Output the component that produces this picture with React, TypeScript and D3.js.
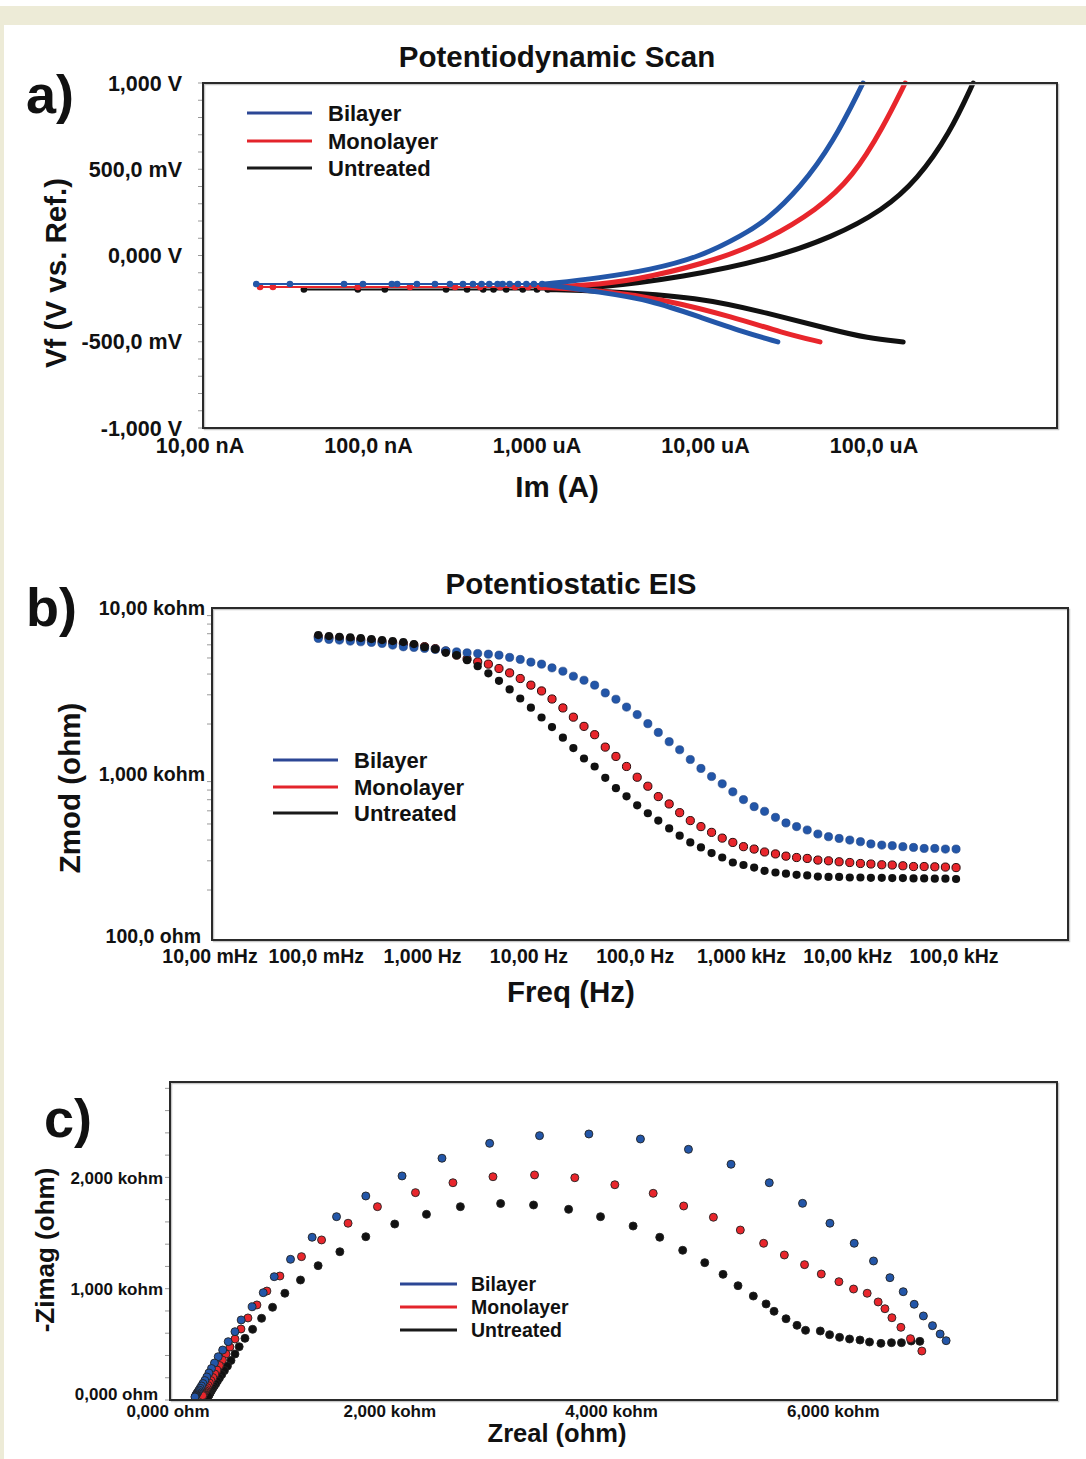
import React from "react";
import * as d3 from "d3";

const FONT = "'Liberation Sans', Arial, Helvetica, sans-serif";
const seriesNames = ["Bilayer", "Monolayer", "Untreated"];
const seriesColors = ["#2356a8", "#e8262c", "#111111"];
const legendColors = ["#2c4795", "#e3242b", "#1a1a1a"];

// ---------- Panel a: Potentiodynamic scan (I in A, V in V) ----------
const tafelXTicks = [1e-8, 1e-7, 1e-6, 1e-5, 1e-4];
const tafelXTickLabels = ["10,00 nA", "100,0 nA", "1,000 uA", "10,00 uA", "100,0 uA"];
const tafelYTicks = [1, 0.5, 0, -0.5, -1];
const tafelYTickLabels = ["1,000 V", "500,0 mV", "0,000 V", "-500,0 mV", "-1,000 V"];

const bilayerCathodic = [[2.58e-5, -0.501], [1.6e-5, -0.443], [8.9e-6, -0.357], [4.5e-6, -0.258], [2.27e-6, -0.212], [1.07e-6, -0.168]];
const bilayerAnodic = [[1.07e-6, -0.165], [2.27e-6, -0.13], [4.5e-6, -0.084], [8.9e-6, -0.009], [1.6e-5, 0.119], [2.22e-5, 0.206], [3.49e-5, 0.391], [5.48e-5, 0.652], [8.26e-5, 1.0]];
const bilayerEcorr = -0.165;
const bilayerNearEcorr = [1.03e-6, 9.2e-7, 8.3e-7, 7.4e-7, 6.6e-7, 6.0e-7, 5.6e-7, 5.0e-7, 4.5e-7, 4.0e-7, 3.49e-7, 2.92e-7, 2.38e-7, 1.86e-7, 1.42e-7, 1.32e-7, 8.9e-8, 6.87e-8, 3.28e-8, 2.07e-8];

const monoCathodic = [[4.59e-5, -0.501], [2.77e-5, -0.449], [1.4e-5, -0.357], [5.68e-6, -0.258], [2.27e-6, -0.2], [1.0e-6, -0.185]];
const monoAnodic = [[1.0e-6, -0.183], [2.27e-6, -0.171], [4.5e-6, -0.125], [1.12e-5, -0.026], [2.22e-5, 0.09], [4.4e-5, 0.264], [7.2e-5, 0.455], [1.09e-4, 0.745], [1.47e-4, 1.0]];
const monoEcorr = -0.183;
const monoNearEcorr = [1.0e-6, 8.5e-7, 7.1e-7, 5.8e-7, 4.41e-7, 3.13e-7, 1.69e-7, 8.3e-8, 2.6e-8, 2.18e-8];

const untreatedCathodic = [[1.43e-4, -0.501], [8.7e-5, -0.478], [5.48e-5, -0.432], [2.22e-5, -0.333], [8.9e-6, -0.241], [2.27e-6, -0.205], [1.11e-6, -0.198]];
const untreatedAnodic = [[1.11e-6, -0.197], [2.27e-6, -0.187], [7.06e-6, -0.125], [2.22e-5, -0.026], [5.48e-5, 0.107], [1.09e-4, 0.264], [1.73e-4, 0.438], [2.71e-4, 0.71], [3.72e-4, 1.0]];
const untreatedEcorr = -0.197;
const untreatedNearEcorr = [1.11e-6, 9.6e-7, 7.9e-7, 6.3e-7, 5.3e-7, 4.6e-7, 3.69e-7, 2.77e-7, 1.2e-7, 8.3e-8, 3.97e-8];

// ---------- Panel b: Bode |Z| ----------
const eisFreq = [
  0.1, 0.126, 0.158, 0.2, 0.251, 0.316, 0.398, 0.501, 0.631, 0.794,
  1, 1.26, 1.58, 2, 2.51, 3.16, 3.98, 5.01, 6.31, 7.94,
  10, 12.6, 15.8, 20, 25.1, 31.6, 39.8, 50.1, 63.1, 79.4,
  100, 126, 158, 200, 251, 316, 398, 501, 631, 794,
  1000, 1260, 1580, 2000, 2510, 3160, 3980, 5010, 6310, 7940,
  10000, 12600, 15800, 20000, 25100, 31600, 39800, 50100, 63100, 79400,
  100000,
];
const zmodBilayer = [
  6560, 6470, 6410, 6320, 6260, 6205, 6120, 5980, 5840, 5790,
  5710, 5630, 5520, 5440, 5370, 5320, 5270, 5200, 5040, 4900,
  4720, 4590, 4360, 4160, 3880, 3670, 3430, 3080, 2820, 2530,
  2280, 2010, 1780, 1565, 1400, 1223, 1080, 966, 873, 781,
  701, 636, 596, 548, 507, 482, 460, 435, 419, 409,
  400, 391, 379, 373, 370, 365, 361, 356, 356, 353,
  353,
];
const zmodMonolayer = [
  6730, 6650, 6590, 6520, 6450, 6380, 6290, 6200, 6100, 5980,
  5850, 5690, 5500, 5200, 4920, 4740, 4590, 4320, 4065, 3760,
  3430, 3165, 2830, 2500, 2200, 1936, 1725, 1452, 1276, 1110,
  956, 844, 731, 660, 585, 524, 482, 445, 411, 387,
  365, 353, 339, 330, 320, 314, 310, 303, 300, 296,
  293, 289, 287, 284, 283, 280, 277, 277, 276, 275,
  273,
];
const zmodUntreated = [
  6870, 6770, 6710, 6650, 6590, 6500, 6410, 6320, 6230, 6060,
  5810, 5650, 5370, 5200, 4850, 4460, 4040, 3640, 3230, 2850,
  2510, 2190, 1918, 1655, 1432, 1240, 1110, 948, 821, 734,
  648, 580, 524, 470, 425, 387, 361, 334, 314, 293,
  283, 273, 261, 255, 251, 247, 245, 241, 240, 240,
  238, 238, 237, 237, 236, 236, 235, 235, 234, 234,
  233,
];
const eisXTicks = [0.01, 0.1, 1, 10, 100, 1000, 10000, 100000];
const eisXTickLabels = ["10,00 mHz", "100,0 mHz", "1,000 Hz", "10,00 Hz", "100,0 Hz", "1,000 kHz", "10,00 kHz", "100,0 kHz"];
const eisYTicks = [10000, 1000, 100];
const eisYTickLabels = ["10,00 kohm", "1,000 kohm", "100,0 ohm"];

// ---------- Panel c: Nyquist ----------
const zrealBilayer = [7000, 6946, 6877, 6795, 6712, 6613, 6493, 6345, 6171, 5952, 5705, 5405, 5060, 4676, 4243, 3778, 3333, 2883, 2453, 2093, 1766, 1502, 1282, 1087, 940, 841, 741, 642, 586, 525, 475, 435, 401, 374, 351, 332, 314, 297, 284, 272, 262, 254, 247, 241, 237, 233, 231, 228, 225];
const zimagBilayer = [533, 593, 668, 755, 860, 973, 1099, 1249, 1408, 1588, 1767, 1952, 2118, 2252, 2345, 2390, 2375, 2306, 2172, 2013, 1833, 1647, 1462, 1264, 1108, 964, 838, 719, 614, 524, 449, 389, 332, 283, 243, 207, 175, 148, 126, 106, 90, 76, 65, 56, 48, 41, 36, 31, 27];
const zrealMonolayer = [6781, 6678, 6592, 6511, 6448, 6387, 6288, 6165, 6033, 5874, 5723, 5541, 5354, 5144, 4901, 4633, 4358, 4012, 3651, 3288, 2913, 2552, 2214, 1871, 1606, 1367, 1186, 991, 874, 784, 703, 640, 586, 541, 505, 473, 446, 423, 404, 386, 369, 356, 344, 333, 324, 317, 311, 306, 302, 298, 295];
const zimagMonolayer = [440, 551, 653, 739, 820, 881, 959, 997, 1063, 1132, 1216, 1303, 1408, 1527, 1642, 1743, 1857, 1934, 1997, 2022, 2006, 1952, 1863, 1737, 1588, 1438, 1288, 1114, 979, 854, 737, 638, 548, 476, 413, 359, 310, 270, 234, 202, 175, 153, 130, 112, 96, 83, 72, 63, 54, 47, 40];
const zrealUntreated = [6763, 6685, 6597, 6507, 6412, 6309, 6223, 6129, 6039, 5949, 5865, 5732, 5655, 5556, 5448, 5376, 5261, 5123, 4988, 4823, 4624, 4417, 4177, 3883, 3595, 3279, 2982, 2619, 2313, 2027, 1766, 1532, 1336, 1177, 1036, 925, 826, 745, 676, 624, 586, 550, 518, 491, 467, 446, 428, 413, 399, 387, 377, 369, 362, 357, 352, 349, 346];
const zimagUntreated = [527, 530, 515, 515, 509, 521, 539, 548, 563, 587, 620, 626, 671, 730, 797, 863, 934, 1027, 1129, 1234, 1345, 1462, 1563, 1647, 1713, 1752, 1765, 1737, 1668, 1581, 1467, 1332, 1207, 1078, 959, 833, 734, 635, 554, 479, 413, 355, 305, 265, 229, 198, 171, 146, 126, 108, 92, 78, 66, 57, 49, 41, 36];
const nyqXTicks = [0, 2000, 4000, 6000];
const nyqXTickLabels = ["0,000 ohm", "2,000 kohm", "4,000 kohm", "6,000 kohm"];
const nyqYTicks = [0, 1000, 2000];
const nyqYTickLabels = ["0,000 ohm", "1,000 kohm", "2,000 kohm"];

function Legend({ x1, x2, tx, ys, size }: { x1: number; x2: number; tx: number; ys: number[]; size: number }) {
  return (
    <g>
      {seriesNames.map((n, i) => (
        <g key={n}>
          <line x1={x1} x2={x2} y1={ys[i]} y2={ys[i]} stroke={legendColors[i]} strokeWidth={3} />
          <text x={tx} y={ys[i]} dy="0.36em" fontSize={size} fontWeight="bold" fill="#111">{n}</text>
        </g>
      ))}
    </g>
  );
}

function Box({ x0, y0, x1, y1 }: { x0: number; y0: number; x1: number; y1: number }) {
  return (
    <g>
      <rect x={x0 + 1.5} y={y0 + 1.5} width={x1 - x0} height={y1 - y0} fill="none" stroke="#c8c8c8" strokeWidth={1.5} />
      <rect x={x0} y={y0} width={x1 - x0} height={y1 - y0} fill="none" stroke="#2a2a2a" strokeWidth={2} />
    </g>
  );
}

function PanelA() {
  const x = d3.scaleLog().domain([1e-8, 1.17e-3]).range([203, 1057]);
  const y = d3.scaleLinear().domain([-1, 1]).range([428, 83]);
  const smooth = d3.line<number[]>().x((d) => x(d[0])).y((d) => y(d[1])).curve(d3.curveBasis);
  const flat = d3.line<number[]>().x((d) => x(d[0])).y((d) => y(d[1]));
  const series = [
    { c: bilayerCathodic, a: bilayerAnodic, e: bilayerEcorr, n: bilayerNearEcorr },
    { c: monoCathodic, a: monoAnodic, e: monoEcorr, n: monoNearEcorr },
    { c: untreatedCathodic, a: untreatedAnodic, e: untreatedEcorr, n: untreatedNearEcorr },
  ];
  const minor = d3.range(-10, 11).map((k) => k / 10);
  return (
    <g fontFamily={FONT}>
      <rect x={203} y={83} width={854} height={345} fill="#fff" />
      {minor.map((v) => (
        <line key={v} x1={198} x2={203} y1={y(v)} y2={y(v)} stroke="#999" strokeWidth={1} />
      ))}
      {[2, 1, 0].map((i) => {
        const s = series[i];
        const pts = s.n.map((I) => [I, s.e]);
        return (
          <g key={i}>
            <path d={flat(pts) || ""} fill="none" stroke={seriesColors[i]} strokeWidth={2} />
            {pts.map((p, k) => (
              <circle key={k} cx={x(p[0])} cy={y(p[1])} r={3.3} fill={seriesColors[i]} />
            ))}
            <path d={smooth(s.c) || ""} fill="none" stroke={seriesColors[i]} strokeWidth={5} strokeLinecap="round" />
            <path d={smooth(s.a) || ""} fill="none" stroke={seriesColors[i]} strokeWidth={5} strokeLinecap="round" />
          </g>
        );
      })}
      <Box x0={203} y0={83} x1={1057} y1={428} />
      {tafelYTicks.map((v, i) => (
        <text key={v} x={182} y={y(v)} dy="0.36em" textAnchor="end" fontSize={21.5} fontWeight="bold" fill="#111">{tafelYTickLabels[i]}</text>
      ))}
      {tafelXTicks.map((v, i) => (
        <text key={v} x={x(v) - 3} y={453} textAnchor="middle" fontSize={21.5} fontWeight="bold" fill="#111">{tafelXTickLabels[i]}</text>
      ))}
      <text x={557} y={67} textAnchor="middle" fontSize={29.5} fontWeight="bold" fill="#111">Potentiodynamic Scan</text>
      <text x={557} y={497} textAnchor="middle" fontSize={29.5} fontWeight="bold" fill="#111">Im (A)</text>
      <text transform="translate(66,273) rotate(-90)" textAnchor="middle" fontSize={29.5} fontWeight="bold" fill="#111">Vf (V vs. Ref.)</text>
      <text x={26} y={113} fontSize={54} fontWeight="bold" fill="#111">a)</text>
      <Legend x1={247} x2={312} tx={328} ys={[113, 141, 168]} size={22} />
    </g>
  );
}

function PanelB() {
  const x = d3.scaleLog().domain([0.01, 1.13e6]).range([212, 1068]);
  const y = d3.scaleLog().domain([100, 10000]).range([940, 608]);
  const sets = [zmodBilayer, zmodMonolayer, zmodUntreated];
  const minor: number[] = [];
  [100, 1000].forEach((d) => [2, 3, 4, 5, 6, 7, 8, 9].forEach((k) => minor.push(d * k)));
  return (
    <g fontFamily={FONT}>
      <rect x={212} y={608} width={856} height={332} fill="#fff" />
      {minor.map((v) => (
        <line key={v} x1={207} x2={212} y1={y(v)} y2={y(v)} stroke="#999" strokeWidth={1} />
      ))}
      {[1, 0, 2].map((i) => (
        <g key={i}>
          {eisFreq.map((f, k) => (
            <circle key={k} cx={x(f)} cy={y(sets[i][k])} r={4.1} fill={seriesColors[i]}
              stroke={i === 1 ? "#2a0a0a" : i === 0 ? "#1d3f80" : "none"} strokeWidth={i === 1 ? 1 : 0.6} />
          ))}
        </g>
      ))}
      <Box x0={212} y0={608} x1={1068} y1={940} />
      {eisYTicks.map((v, i) => (
        <text key={v} x={v === 100 ? 201 : 205} y={y(v) - (v === 100 ? 4 : 0)} dy="0.36em" textAnchor="end" fontSize={19.5} fontWeight="bold" fill="#111">{eisYTickLabels[i]}</text>
      ))}
      {eisXTicks.map((v, i) => (
        <text key={v} x={x(v) - 2} y={963} textAnchor="middle" fontSize={19.5} fontWeight="bold" fill="#111">{eisXTickLabels[i]}</text>
      ))}
      <text x={571} y={594} textAnchor="middle" fontSize={29.5} fontWeight="bold" fill="#111">Potentiostatic EIS</text>
      <text x={571} y={1002} textAnchor="middle" fontSize={29.5} fontWeight="bold" fill="#111">Freq (Hz)</text>
      <text transform="translate(80,788) rotate(-90)" textAnchor="middle" fontSize={29.5} fontWeight="bold" fill="#111">Zmod (ohm)</text>
      <text x={26} y={626} fontSize={54} fontWeight="bold" fill="#111">b)</text>
      <Legend x1={273} x2={338} tx={354} ys={[760, 787, 813]} size={22} />
    </g>
  );
}

function PanelC() {
  const x = d3.scaleLinear().domain([0, 8000]).range([170, 1057]);
  const y = d3.scaleLinear().domain([0, 2857]).range([1400, 1082]);
  const sets = [
    { re: zrealBilayer, im: zimagBilayer },
    { re: zrealMonolayer, im: zimagMonolayer },
    { re: zrealUntreated, im: zimagUntreated },
  ];
  const minor = d3.range(0, 15).map((k) => k * 200);
  return (
    <g fontFamily={FONT}>
      <rect x={170} y={1082} width={887} height={318} fill="#fff" />
      {minor.map((v) => (
        <line key={v} x1={165} x2={170} y1={y(v)} y2={y(v)} stroke="#999" strokeWidth={1} />
      ))}
      {[2, 1, 0].map((i) => (
        <g key={i}>
          {sets[i].re.map((r, k) => (
            <circle key={k} cx={x(r)} cy={y(sets[i].im[k])} r={4} fill={seriesColors[i]} stroke="#222" strokeWidth={0.9} />
          ))}
        </g>
      ))}
      <Box x0={170} y0={1082} x1={1057} y1={1400} />
      {nyqYTicks.map((v, i) => (
        <text key={v} x={v === 0 ? 158 : 163} y={y(v) - (v === 0 ? 6 : 0)} dy="0.36em" textAnchor="end" fontSize={17} fontWeight="bold" fill="#111">{nyqYTickLabels[i]}</text>
      ))}
      {nyqXTicks.map((v, i) => (
        <text key={v} x={x(v) - 2} y={1417} textAnchor="middle" fontSize={17} fontWeight="bold" fill="#111">{nyqXTickLabels[i]}</text>
      ))}
      <text x={557} y={1442} textAnchor="middle" fontSize={25.5} fontWeight="bold" fill="#111">Zreal (ohm)</text>
      <text transform="translate(54,1250) rotate(-90)" textAnchor="middle" fontSize={26} fontWeight="bold" fill="#111">-Zimag (ohm)</text>
      <text x={44} y={1137} fontSize={54} fontWeight="bold" fill="#111">c)</text>
      <Legend x1={400} x2={457} tx={471} ys={[1284, 1307, 1330]} size={19.5} />
    </g>
  );
}

export default function App() {
  return (
    <svg width={1086} height={1459} style={{ position: "absolute", left: 0, top: 0, background: "#fff" }}>
      <rect x={0} y={0} width={1086} height={1459} fill="#fff" />
      <rect x={0} y={6} width={1086} height={19} fill="#edebd7" />
      <rect x={0} y={6} width={4} height={1453} fill="#edebd7" />
      <PanelA />
      <PanelB />
      <PanelC />
    </svg>
  );
}
